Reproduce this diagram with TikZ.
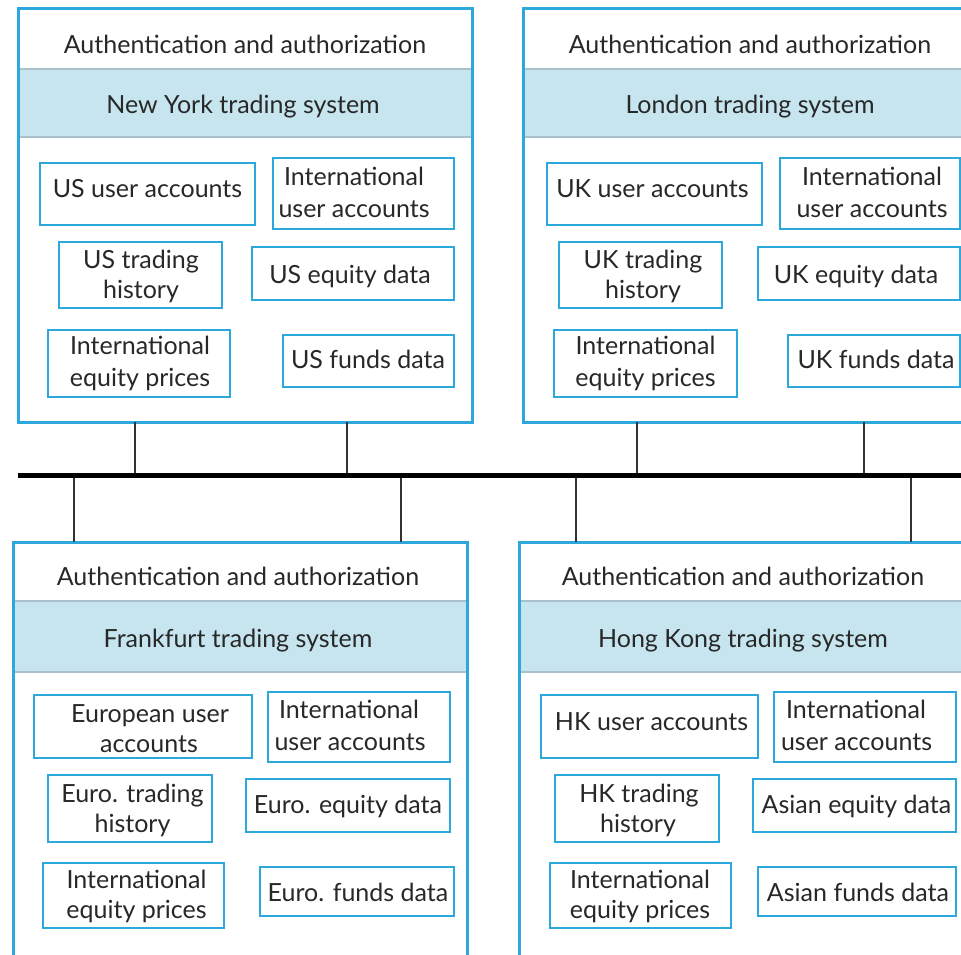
\documentclass[tikz,border=0pt]{standalone}
\usepackage{fontspec}
\setmainfont{Lato}
\definecolor{pblue}{RGB}{45,168,220}
\definecolor{bandc}{RGB}{198,229,239}
\definecolor{bandedge}{RGB}{170,192,202}
\definecolor{txtc}{RGB}{40,40,40}
\definecolor{connc}{RGB}{50,50,50}
\tikzset{
  panelbg/.style={fill=white, draw=none, inner sep=0pt, outer sep=0pt, rectangle, anchor=north west},
  frame/.style={draw=pblue, line width=3pt},
  bandfill/.style={fill=bandc},
  bandline/.style={draw=bandedge, line width=1.2pt},
  ibox/.style={draw=pblue, line width=2.8pt, fill=white, inner sep=0pt, outer sep=0pt, rectangle},
  itxt/.style={text=txtc, font=\fontsize{25}{30}\selectfont, inner sep=0pt, anchor=base},
  connline/.style={draw=connc, line width=2pt},
  busline/.style={draw=black, line width=5pt},
}
% panel: name, x, y, top band offset, bottom band offset
\newcommand\tpanel[5]{%
  \node[panelbg, minimum width=454pt, minimum height=414pt] (#1) at (#2,#3) {};
  \fill[bandfill] ({#2},{#3+#4}) rectangle ({#2+454},{#3+#5});
  \draw[bandline] ({#2},{#3+#4}) -- ({#2+454},{#3+#4});
  \draw[bandline] ({#2},{#3+#5}) -- ({#2+454},{#3+#5});
  \draw[frame] (#1.north west) rectangle (#1.south east);
}
% inner box: name, x1, y1, x2, y2
\newcommand\ibx[5]{%
  \node[ibox, minimum width={(#4)-(#2)}, minimum height={(#5)-(#3)}] (#1) at ({(#2+#4)/2},{(#3+#5)/2}) {};
}
\begin{document}
\begin{tikzpicture}[x=1pt,y=-1pt]
\useasboundingbox (0,0) rectangle (961,954);
\clip (0,0) rectangle (961,954);

% ---------- panels ----------
\tpanel{ny}{18}{8}{61}{129}
\tpanel{ld}{523}{8}{61}{129}
\tpanel{fr}{13}{542}{59}{130}
\tpanel{hk}{519}{542}{59}{130}

% titles
\node[itxt] (nyauth) at (245,53) {Authentication and authorization};
\node[itxt] (nysys) at (243,113) {New York trading system};
\node[itxt] (ldauth) at (750,53) {Authentication and authorization};
\node[itxt] (ldsys) at (750,113) {London trading system};
\node[itxt] (frauth) at (238,585) {Authentication and authorization};
\node[itxt] (frsys) at (238,647) {Frankfurt trading system};
\node[itxt] (hkauth) at (743,585) {Authentication and authorization};
\node[itxt] (hksys) at (743,647) {Hong Kong trading system};

% ---------- New York ----------
\ibx{nyua}{40}{163}{255}{225}
\ibx{nyiua}{273}{158}{454}{229}
\ibx{nyth}{59}{242}{222}{308}
\ibx{nyed}{252}{247}{454}{300}
\ibx{nyiep}{48}{330}{230}{397}
\ibx{nyfd}{283}{335}{454}{387}
\node[itxt] (nyuat) at (147.5,197) {US user accounts};
\node[itxt] (nyiuat1) at (354,185) {International};
\node[itxt] (nyiuat2) at (354,217) {user accounts};
\node[itxt] (nytht1) at (141,268) {US trading};
\node[itxt] (nytht2) at (141,298) {history};
\node[itxt] (nyedt) at (350,283) {US equity data};
\node[itxt] (nyiept1) at (140,354) {International};
\node[itxt] (nyiept2) at (140,386) {equity prices};
\node[itxt] (nyfdt) at (368,368) {US funds data};

% ---------- London ----------
\ibx{ldua}{547}{163}{762}{225}
\ibx{ldiua}{780}{158}{960}{229}
\ibx{ldth}{559}{242}{722}{308}
\ibx{lded}{758}{247}{960}{300}
\ibx{ldiep}{554}{330}{737}{397}
\ibx{ldfd}{788}{335}{960}{387}
\node[itxt] (lduat) at (652.5,197) {UK user accounts};
\node[itxt] (ldiuat1) at (872,185) {International};
\node[itxt] (ldiuat2) at (872,217) {user accounts};
\node[itxt] (ldtht1) at (643,268) {UK trading};
\node[itxt] (ldtht2) at (643,298) {history};
\node[itxt] (ldedt) at (856,283) {UK equity data};
\node[itxt] (ldiept1) at (645.5,354) {International};
\node[itxt] (ldiept2) at (645.5,386) {equity prices};
\node[itxt] (ldfdt) at (876,368) {UK funds data};

% ---------- Frankfurt ----------
\ibx{frua}{34}{695}{252}{758}
\ibx{friua}{268}{692}{450}{762}
\ibx{frth}{48}{775}{212}{842}
\ibx{fred}{246}{779}{450}{832}
\ibx{friep}{43}{863}{224}{928}
\ibx{frfd}{260}{867}{454}{916}
\node[itxt] (fruat1) at (150,722) {European user};
\node[itxt] (fruat2) at (149,752) {accounts};
\node[itxt] (friuat1) at (349,718) {International};
\node[itxt] (friuat2) at (350,750) {user accounts};
\node[itxt] (frtht1) at (132.5,802) {Euro. trading};
\node[itxt] (frtht2) at (132.5,832) {history};
\node[itxt] (fredt) at (348,813) {Euro. equity data};
\node[itxt] (friept1) at (136.5,888) {International};
\node[itxt] (friept2) at (136.5,918) {equity prices};
\node[itxt] (frfdt) at (358,901) {Euro. funds data};

% ---------- Hong Kong ----------
\ibx{hkua}{541}{695}{758}{758}
\ibx{hkiua}{774}{692}{956}{762}
\ibx{hkth}{555}{775}{719}{842}
\ibx{hked}{753}{779}{956}{832}
\ibx{hkiep}{550}{863}{731}{928}
\ibx{hkfd}{758}{867}{956}{916}
\node[itxt] (hkuat) at (651.5,730) {HK user accounts};
\node[itxt] (hkiuat1) at (856,718) {International};
\node[itxt] (hkiuat2) at (856.5,750) {user accounts};
\node[itxt] (hktht1) at (639,802) {HK trading};
\node[itxt] (hktht2) at (638,832) {history};
\node[itxt] (hkedt) at (856.5,813) {Asian equity data};
\node[itxt] (hkiept1) at (640,888) {International};
\node[itxt] (hkiept2) at (640,918) {equity prices};
\node[itxt] (hkfdt) at (858,901) {Asian funds data};

% ---------- network ----------
\coordinate (busW) at (18,475);
\coordinate (busE) at (975,475);
\coordinate (nyc1) at (135,422);
\coordinate (nyc2) at (347,422);
\coordinate (ldc1) at (637,422);
\coordinate (ldc2) at (864,422);
\coordinate (frc1) at (74,542);
\coordinate (frc2) at (401,542);
\coordinate (hkc1) at (576,542);
\coordinate (hkc2) at (911,542);
\foreach \c in {nyc1,nyc2,ldc1,ldc2,frc1,frc2,hkc1,hkc2}
  \draw[connline] (\c) -- (\c |- busW);
\draw[busline] (busW) -- (busE);
\end{tikzpicture}
\end{document}
